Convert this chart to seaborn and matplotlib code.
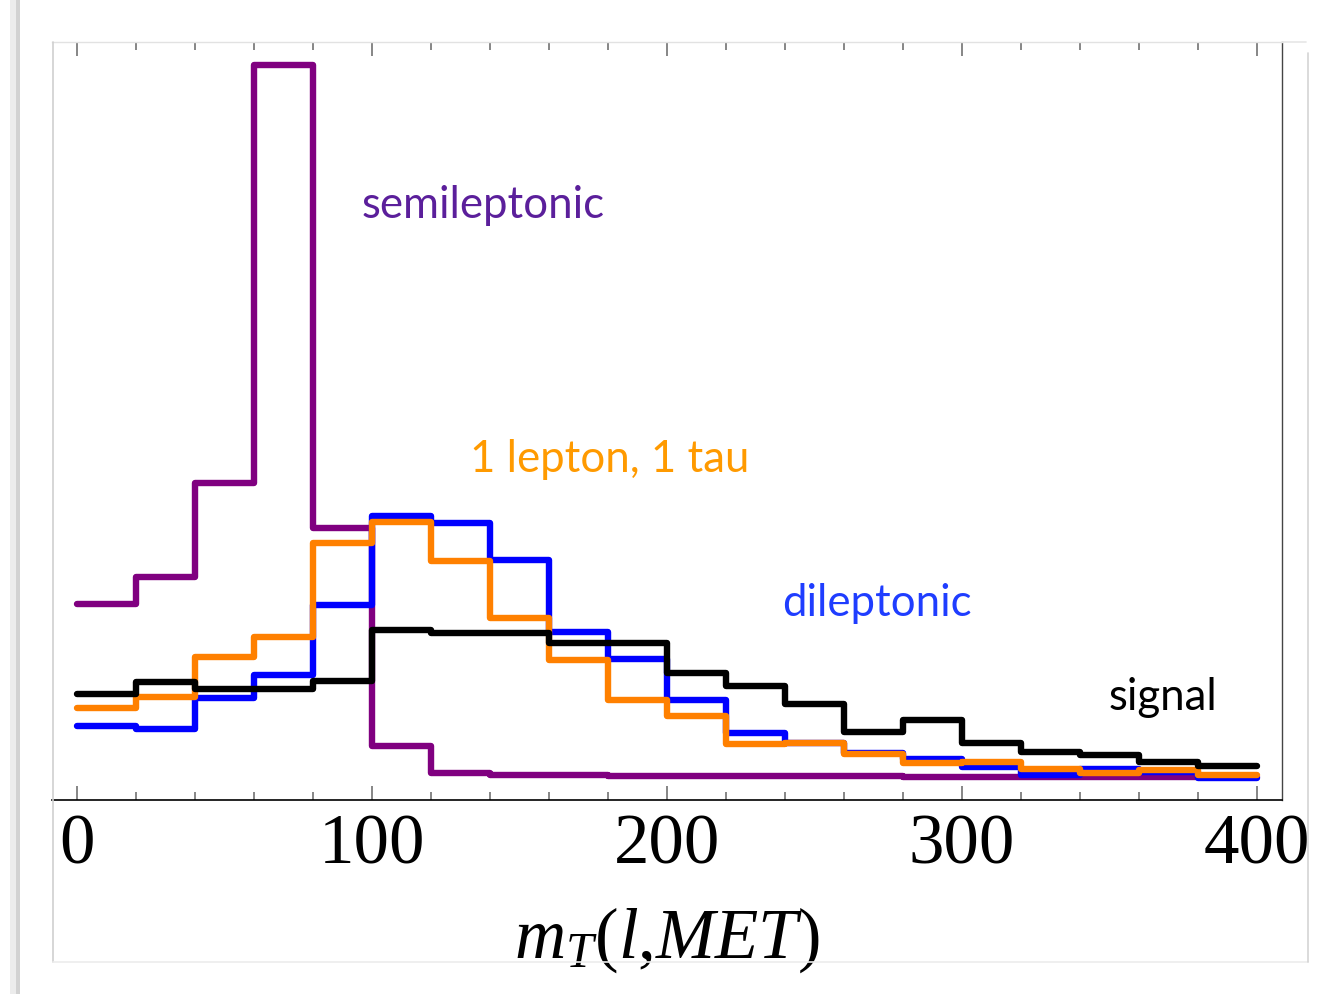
import matplotlib
matplotlib.use("Agg")
import numpy as np
import pandas as pd
import matplotlib.pyplot as plt
from matplotlib.lines import Line2D
from matplotlib.patches import Rectangle
from matplotlib.ticker import MultipleLocator
import seaborn as sns

# Transverse mass m_T(l, MET), 20 GeV bins from 0 to 400
bin_edges = list(range(0, 420, 20))

semileptonic = [0.196, 0.223, 0.317, 0.735, 0.272, 0.054, 0.027, 0.025, 0.025, 0.024,
                0.024, 0.024, 0.024, 0.024, 0.023, 0.023, 0.023, 0.023, 0.023, 0.023]
dileptonic = [0.074, 0.071, 0.102, 0.125, 0.195, 0.284, 0.277, 0.240, 0.168, 0.141,
              0.100, 0.067, 0.057, 0.047, 0.041, 0.033, 0.025, 0.031, 0.028, 0.022]
lepton_tau = [0.092, 0.103, 0.143, 0.163, 0.257, 0.278, 0.239, 0.182, 0.140, 0.100,
              0.084, 0.056, 0.057, 0.046, 0.037, 0.038, 0.031, 0.027, 0.030, 0.025]
signal = [0.106, 0.118, 0.111, 0.111, 0.119, 0.170, 0.167, 0.167, 0.157, 0.157,
          0.127, 0.114, 0.096, 0.068, 0.080, 0.057, 0.048, 0.045, 0.038, 0.034]

sample_names = ["semileptonic", "dileptonic", "1 lepton, 1 tau", "signal"]
tick_values = [0, 100, 200, 300, 400]
tick_labels = ["0", "100", "200", "300", "400"]

line_colors = {"semileptonic": "#800080", "dileptonic": "#0000ff",
               "1 lepton, 1 tau": "#ff8000", "signal": "#000000"}
text_colors = {"semileptonic": "#5b1f9b", "dileptonic": "#1f3dff",
               "1 lepton, 1 tau": "#ff9a00", "signal": "#000000"}

sns.set_theme(style="white")
plt.rcParams["mathtext.fontset"] = "custom"
plt.rcParams["mathtext.rm"] = "Liberation Serif"
plt.rcParams["mathtext.it"] = "Liberation Serif:italic"
plt.rcParams["mathtext.bf"] = "Liberation Serif:bold"

W, H = 1335, 994
fig = plt.figure(figsize=(W / 100, H / 100), dpi=100)
fig.patch.set_facecolor("white")

def fx(px):
    return px / W

def fy(py):
    return 1 - py / H

ax = fig.add_axes([fx(52), fy(800), fx(1282) - fx(52), fy(42) - fy(800)])

centers = [e + 10 for e in bin_edges[:-1]]
df = pd.concat([
    pd.DataFrame({"mT": centers, "weight": vals, "sample": name})
    for name, vals in zip(sample_names, [semileptonic, dileptonic, lepton_tau, signal])
], ignore_index=True)

for name in sample_names:
    sns.histplot(data=df[df["sample"] == name], x="mT", weights="weight",
                 bins=bin_edges, element="step", fill=False,
                 color=line_colors[name], linewidth=4.6, ax=ax)

ax.set_xlim(-8.37, 408.6)
ax.set_ylim(0, 0.758)
ax.set_ylabel("")
ax.set_yticks([])

ax.set_xticks(tick_values, tick_labels)
ax.xaxis.set_minor_locator(MultipleLocator(20))
ax.tick_params(axis="x", which="both", direction="in", top=True, bottom=True,
               color="#666666", width=1.1, pad=10)
ax.tick_params(axis="x", which="major", length=10)
ax.tick_params(axis="x", which="minor", length=5.5)
for lab in ax.get_xticklabels():
    lab.set_fontfamily("Liberation Serif")
    lab.set_fontsize(51)
    lab.set_color("black")

ax.set_xlabel(r"$m_T(l{,}MET)$", fontsize=51, labelpad=19, color="black")

ax.spines["left"].set_visible(False)
ax.spines["top"].set_color("#e2e2e2")
ax.spines["top"].set_linewidth(1.0)
ax.spines["right"].set_color("#444444")
ax.spines["right"].set_linewidth(1.0)
ax.spines["bottom"].set_color("black")
ax.spines["bottom"].set_linewidth(1.2)

# Curve labels
def dx(px):
    return (px - 76.7) / 2.95

def dy(py):
    return (800 - py) / 1000

labels = [("semileptonic", 362, 218), ("1 lepton, 1 tau", 470, 472),
          ("dileptonic", 782, 616), ("signal", 1109, 710)]
for name, px, py in labels:
    ax.text(dx(px), dy(py), name, color=text_colors[name], fontsize=31.5,
            family="Lato", ha="left", va="baseline")

# Page frame around the plot
frame_kw = dict(transform=fig.transFigure, linewidth=1.2)
fig.add_artist(Line2D([fx(53), fx(53)], [fy(42), fy(962)], color="#cfcfcf", **frame_kw))
fig.add_artist(Line2D([fx(53), fx(1308)], [fy(962), fy(962)], color="#ececec", **frame_kw))
fig.add_artist(Line2D([fx(1308), fx(1308)], [fy(53), fy(962)], color="#d4d4d4", **frame_kw))
fig.add_artist(Line2D([fx(1282), fx(1306)], [fy(42), fy(42)], color="#e6e6e6", **frame_kw))
fig.add_artist(Rectangle((fx(10), 0), fx(6), 1, transform=fig.transFigure,
                         facecolor="#ececec", edgecolor="none"))
fig.add_artist(Rectangle((fx(16), 0), fx(4), 1, transform=fig.transFigure,
                         facecolor="#d2d2d2", edgecolor="none"))

fig.savefig("out.png", dpi=100)
